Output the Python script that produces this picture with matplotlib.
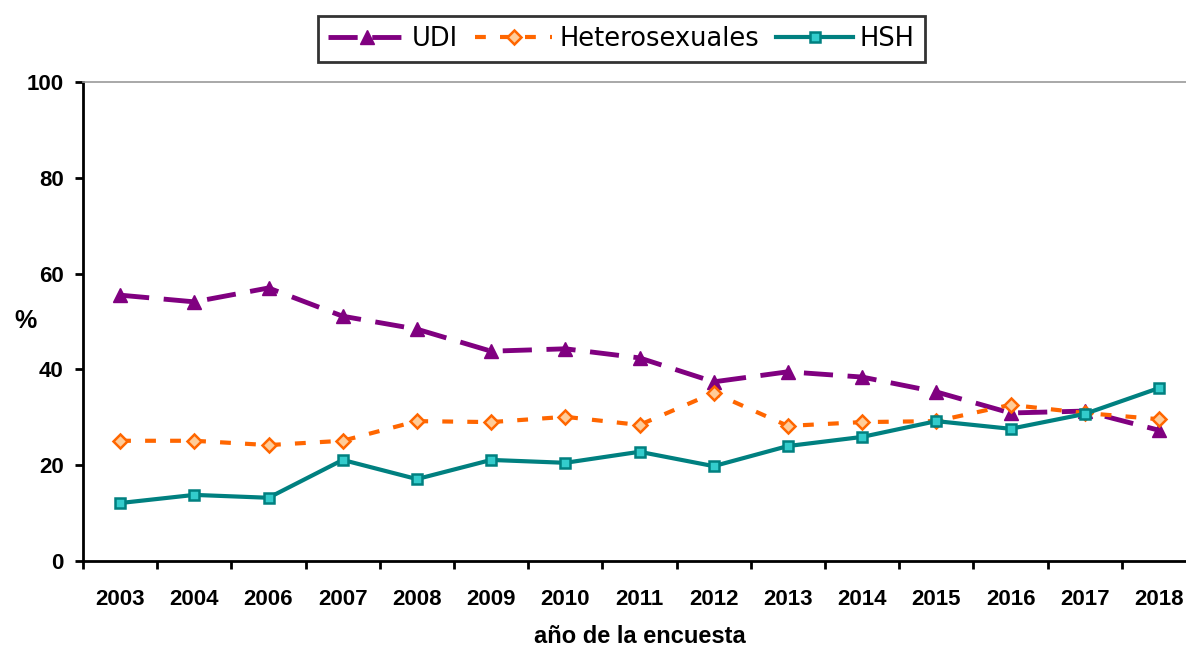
import matplotlib
matplotlib.use("Agg")
import matplotlib.pyplot as plt
import numpy as np

years = ["2003", "2004", "2006", "2007", "2008", "2009", "2010", "2011",
         "2012", "2013", "2014", "2015", "2016", "2017", "2018"]
udi = [55.5, 54.1, 57.0, 51.1, 48.4, 43.8, 44.3, 42.4, 37.4, 39.5, 38.4, 35.3, 30.9, 31.3, 27.3]
hetero = [25.1, 25.1, 24.2, 25.1, 29.2, 29.0, 30.1, 28.4, 35.1, 28.2, 29.0, 29.2, 32.6, 30.9, 29.6]
hsh = [12.1, 13.8, 13.2, 21.1, 17.1, 21.1, 20.5, 22.8, 19.8, 24.0, 25.9, 29.2, 27.6, 30.7, 36.1]
yticks = [0, 20, 40, 60, 80, 100]

plt.rcParams['font.family'] = ['Liberation Sans', 'DejaVu Sans']

fig = plt.figure(figsize=(11.86, 6.5), dpi=100)
ax = fig.add_axes([83/1186, 89/650, 1113/1186, 479/650])
x = np.arange(len(years))

ax.plot(x, udi, color="#800080", lw=3.5, dashes=(6, 3), marker="^", ms=10,
        mfc="#800080", mec="#800080", label="UDI", zorder=3)
ax.plot(x, hetero, color="#FF6600", lw=3, dashes=(2.6, 3.4), marker="D", ms=7,
        mfc="#FFCC99", mec="#FF6600", mew=1.8, label="Heterosexuales", zorder=3)
ax.plot(x, hsh, color="#008080", lw=3, marker="s", ms=7,
        mfc="#33CCCC", mec="#008080", mew=1.8, label="HSH", zorder=4)

ax.set_xlim(-0.5, len(years) - 0.5)
ax.set_ylim(0, 100)
ax.set_yticks(yticks)
ax.set_yticklabels([str(v) for v in yticks], fontsize=16, fontweight="bold")
ax.set_xticks(x)
ax.set_xticklabels(years, fontsize=16, fontweight="bold")
ax.tick_params(axis="x", which="major", length=0, pad=20)
ax.set_xticks(np.arange(-0.5, len(years), 1.0), minor=True)
ax.tick_params(axis="x", which="minor", length=5.5, width=2, direction="out")
ax.tick_params(axis="y", length=5.5, width=2, direction="out", pad=8.5)

ax.spines["right"].set_visible(False)
ax.spines["top"].set_color("#999999")
ax.spines["top"].set_linewidth(1.2)
for s in ["left", "bottom"]:
    ax.spines[s].set_linewidth(2)

ax.set_xlabel("año de la encuesta", fontsize=17, fontweight="bold", labelpad=11)
ax.set_ylabel("%", fontsize=18, fontweight="bold", rotation=0, va="center")
ax.yaxis.set_label_coords(-0.052, 0.5)

leg = fig.legend(loc="center", bbox_to_anchor=(621.5/1186, 1 - 39/650), ncol=3,
                 prop={"family": ["DejaVu Sans"], "size": 18.5},
                 frameon=True, fancybox=False, edgecolor="black",
                 handlelength=3.0, columnspacing=0.66, handletextpad=0.27,
                 borderpad=0.4, borderaxespad=0)
leg.get_frame().set_linewidth(2)

fig.savefig("out.png", dpi=100)
